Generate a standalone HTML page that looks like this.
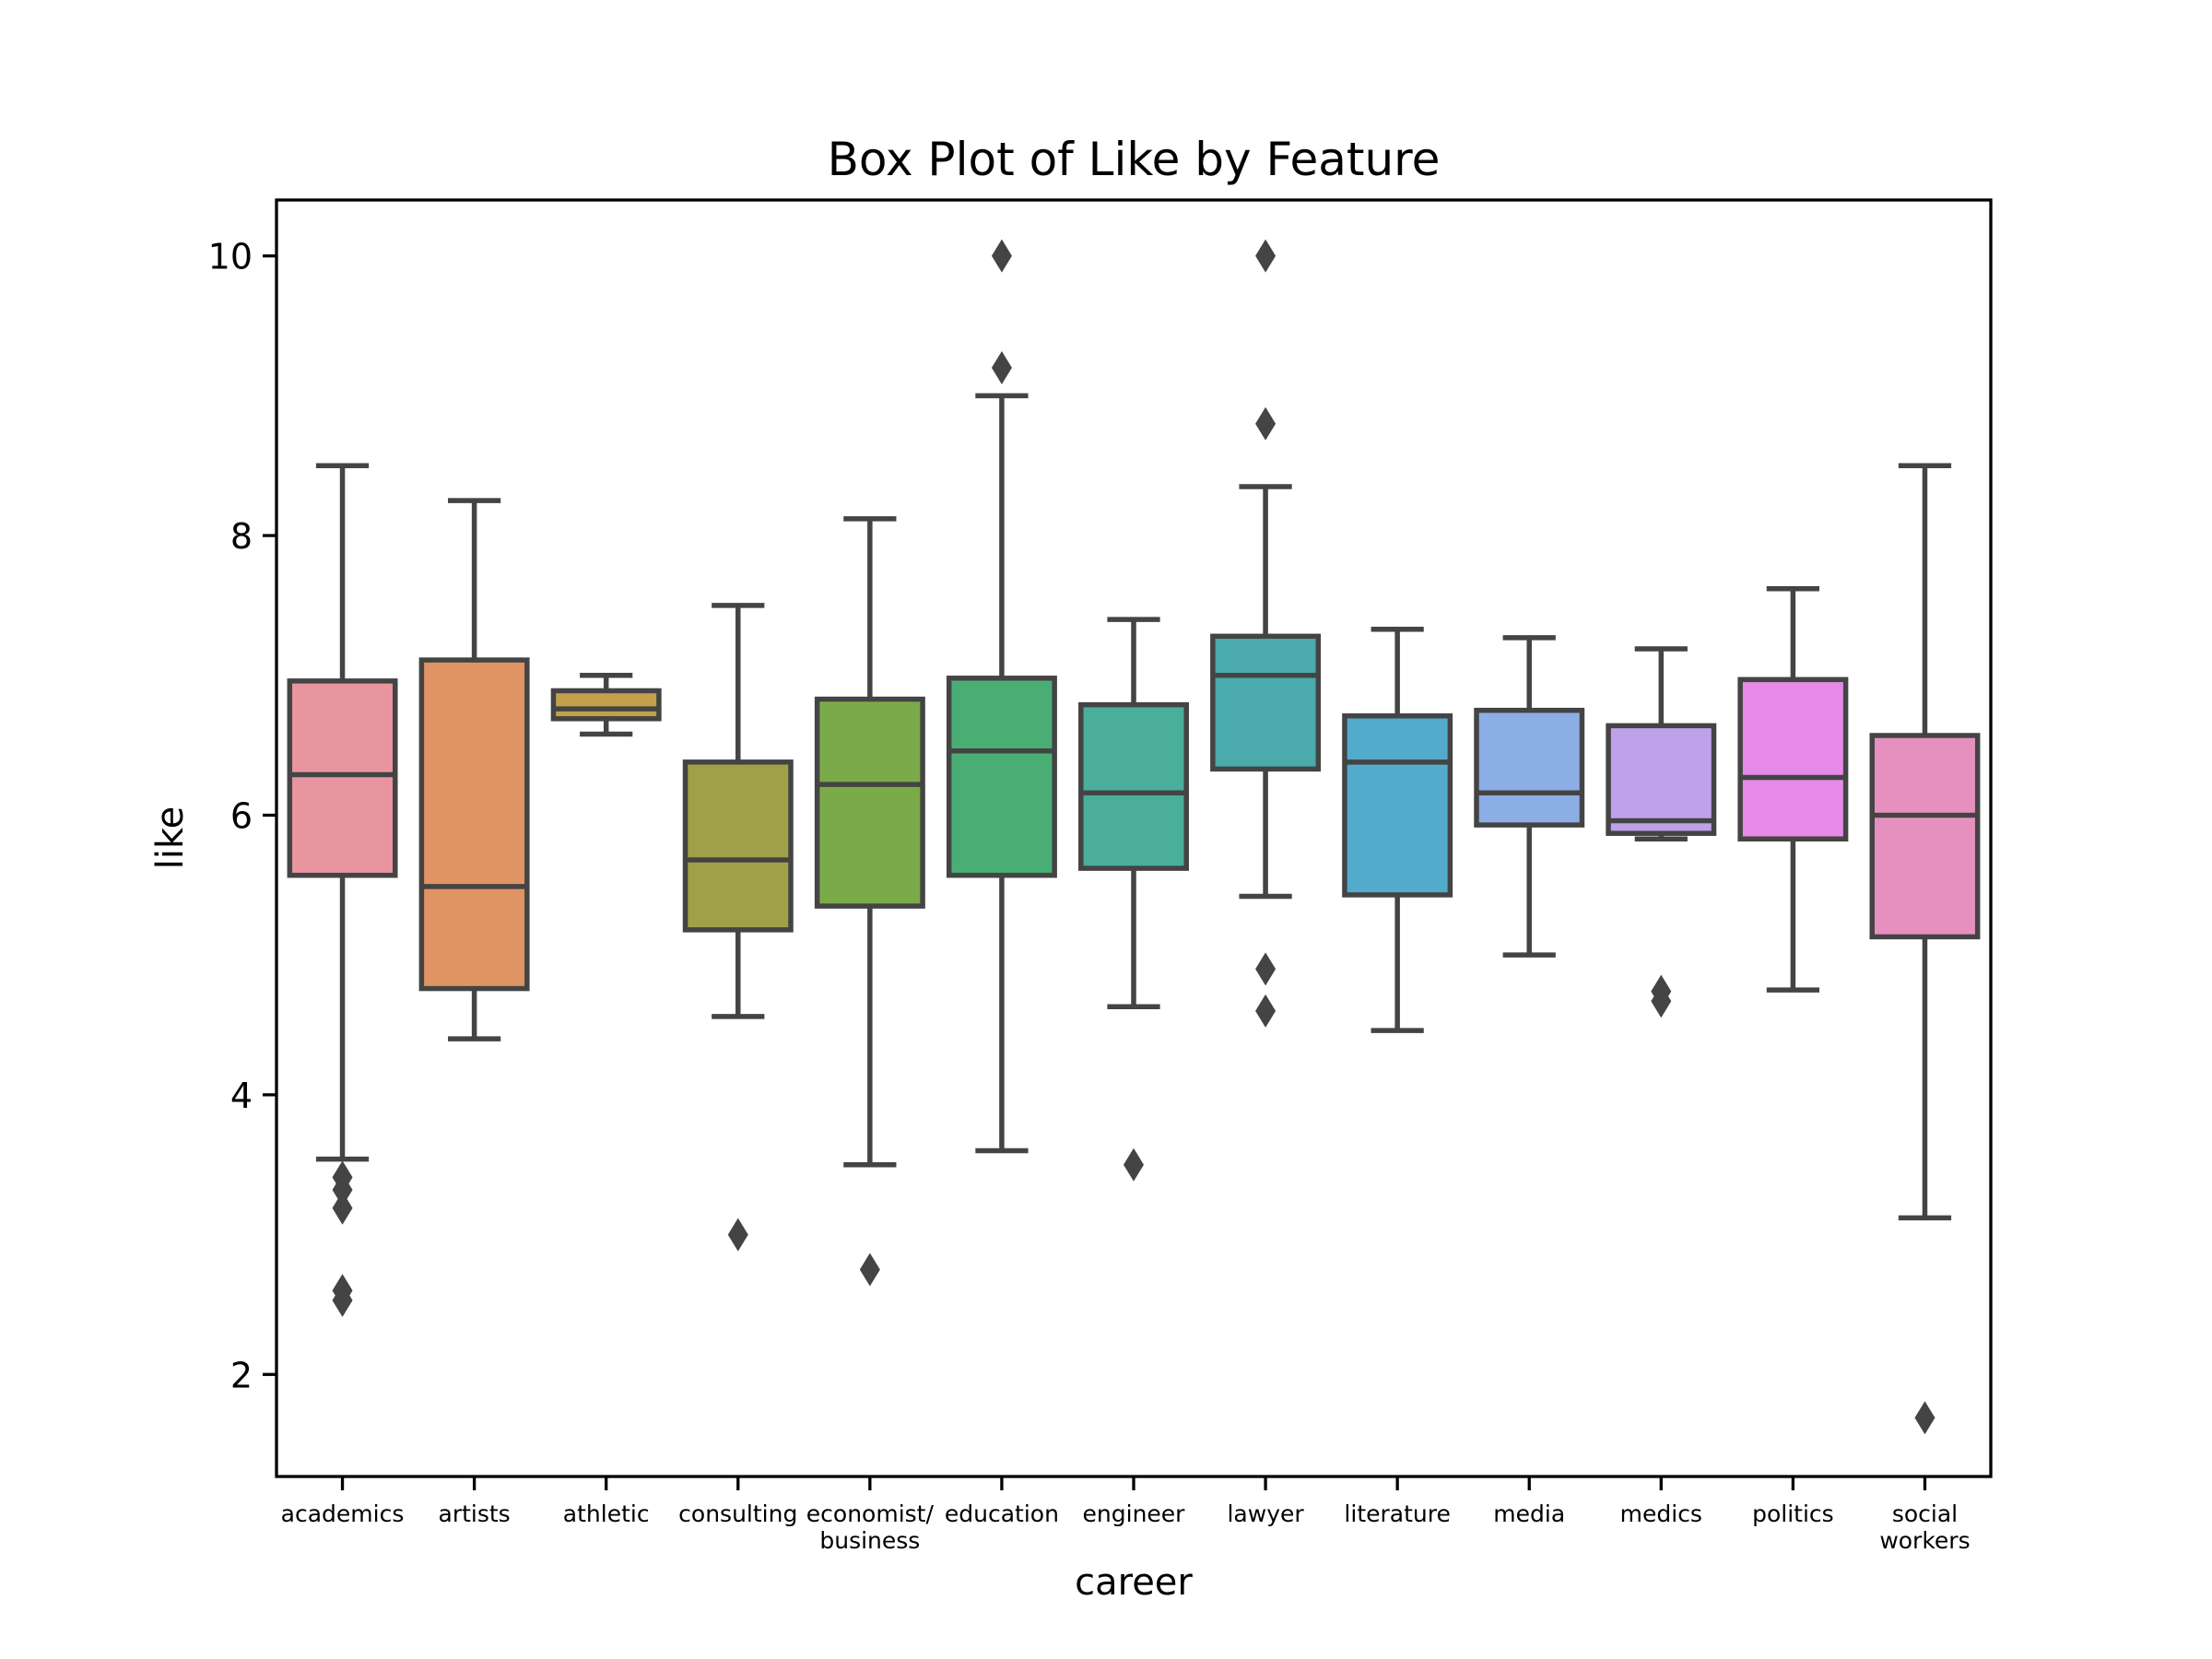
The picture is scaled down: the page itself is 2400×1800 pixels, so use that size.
<!DOCTYPE html>
<html><head><meta charset="utf-8"><style>
html,body{margin:0;padding:0;background:#fff;}
svg{display:block;font-family:"DejaVu Sans","Liberation Sans",sans-serif;}
</style></head><body>
<svg id="chart" width="2400" height="1800" viewBox="0 0 2400 1800" xmlns="http://www.w3.org/2000/svg">
<rect width="2400" height="1800" fill="#fff"/>
<text x="1230" y="190" font-size="50" text-anchor="middle" fill="#000">Box Plot of Like by Feature</text>
<g id="plot"></g>
<text x="1230" y="1730" font-size="40" text-anchor="middle" fill="#000">career</text>
<text x="0" y="0" font-size="40" text-anchor="middle" fill="#000" transform="translate(198,909) rotate(-90)">like</text>
</svg>
<script>
const categories = ["academics","artists","athletic","consulting","economist/\nbusiness","education","engineer","lawyer","literature","media","medics","politics","social\nworkers"];
const whiskerLow = [3.54,4.40,6.58,4.56,3.50,3.60,4.63,5.42,4.46,5.00,5.83,4.75,3.12];
const q1Values = [5.57,4.76,6.69,5.18,5.35,5.57,5.62,6.33,5.43,5.93,5.87,5.83,5.13];
const medianValues = [6.29,5.49,6.76,5.68,6.22,6.46,6.16,7.00,6.38,6.16,5.96,6.27,6.00];
const q3Values = [6.96,7.11,6.89,6.38,6.83,6.98,6.79,7.28,6.71,6.75,6.64,6.97,6.57];
const whiskerHigh = [8.50,8.25,7.00,7.50,8.12,9.00,7.40,8.35,7.33,7.27,7.19,7.62,8.50];
const outliers = [[3.41,3.32,3.19,2.60,2.53],[],[],[3.00],[2.75],[10.0,9.2],[3.50],[10.0,8.8,4.9,4.6],[],[],[4.74,4.67],[],[1.69]];
const colors = ["#e8959f","#e09464","#c4a04a","#a0a048","#7aab48","#4aae74","#4aae9a","#4aaaac","#52abcb","#8caee6","#bea2e9","#e58ae6","#e690c0"];
const yTicks = [2,4,6,8,10];

const L=300,R=2160,T=217,B=1602, yMin=1.27, yMax=10.40;
const xs = i => L + (i+0.5)*(R-L)/categories.length;
const ys = v => B - (v-yMin)/(yMax-yMin)*(B-T);
const NS="http://www.w3.org/2000/svg";
const g=document.getElementById('plot');
function mk(tag,attrs,parent){const e=document.createElementNS(NS,tag);for(const k in attrs)e.setAttribute(k,attrs[k]);(parent||g).appendChild(e);return e;}
const bw=(R-L)/categories.length*0.8, lc="#444444", lw=5.5;
categories.forEach((c,i)=>{
  const cx=xs(i);
  const grp=mk('g',{});
  
  
  mk('line',{x1:cx,x2:cx,y1:ys(whiskerLow[i]),y2:ys(q1Values[i]),stroke:lc,'stroke-width':lw},grp);
  mk('line',{x1:cx,x2:cx,y1:ys(q3Values[i]),y2:ys(whiskerHigh[i]),stroke:lc,'stroke-width':lw},grp);
  mk('line',{x1:cx-bw/4,x2:cx+bw/4,y1:ys(whiskerLow[i]),y2:ys(whiskerLow[i]),stroke:lc,'stroke-width':lw},grp);
  mk('line',{x1:cx-bw/4,x2:cx+bw/4,y1:ys(whiskerHigh[i]),y2:ys(whiskerHigh[i]),stroke:lc,'stroke-width':lw},grp);
  mk('rect',{x:cx-bw/2,y:ys(q3Values[i]),width:bw,height:ys(q1Values[i])-ys(q3Values[i]),fill:colors[i],stroke:lc,'stroke-width':lw},grp);
  mk('line',{x1:cx-bw/2,x2:cx+bw/2,y1:ys(medianValues[i]),y2:ys(medianValues[i]),stroke:lc,'stroke-width':lw},grp);
  outliers[i].forEach(v=>{
    const y=ys(v);
    const p=mk('polygon',{points:`${cx},${y-18} ${cx+11},${y} ${cx},${y+18} ${cx-11},${y}`,fill:lc},grp);
    
    
  });
  mk('line',{x1:cx,x2:cx,y1:B,y2:B+15,stroke:'#000','stroke-width':3.3});
  const lines=c.split('\n');
  const t=mk('text',{x:cx,y:B+49,'font-size':25,'text-anchor':'middle',fill:'#000'});
  
  
  lines.forEach((ln,j)=>{const ts=mk('tspan',{x:cx,dy:j?29:0},t);ts.textContent=ln;});
});
yTicks.forEach(v=>{
  const y=ys(v);
  mk('line',{x1:L-15,x2:L,y1:y,y2:y,stroke:'#000','stroke-width':3.3});
  const t=mk('text',{x:L-26,y:y+14,'font-size':38,'text-anchor':'end',fill:'#000'});
  
  
  t.textContent=v;
});
const fr=mk('rect',{x:L,y:T,width:R-L,height:B-T,fill:'none',stroke:'#000','stroke-width':3.3});


</script>
</body></html>
